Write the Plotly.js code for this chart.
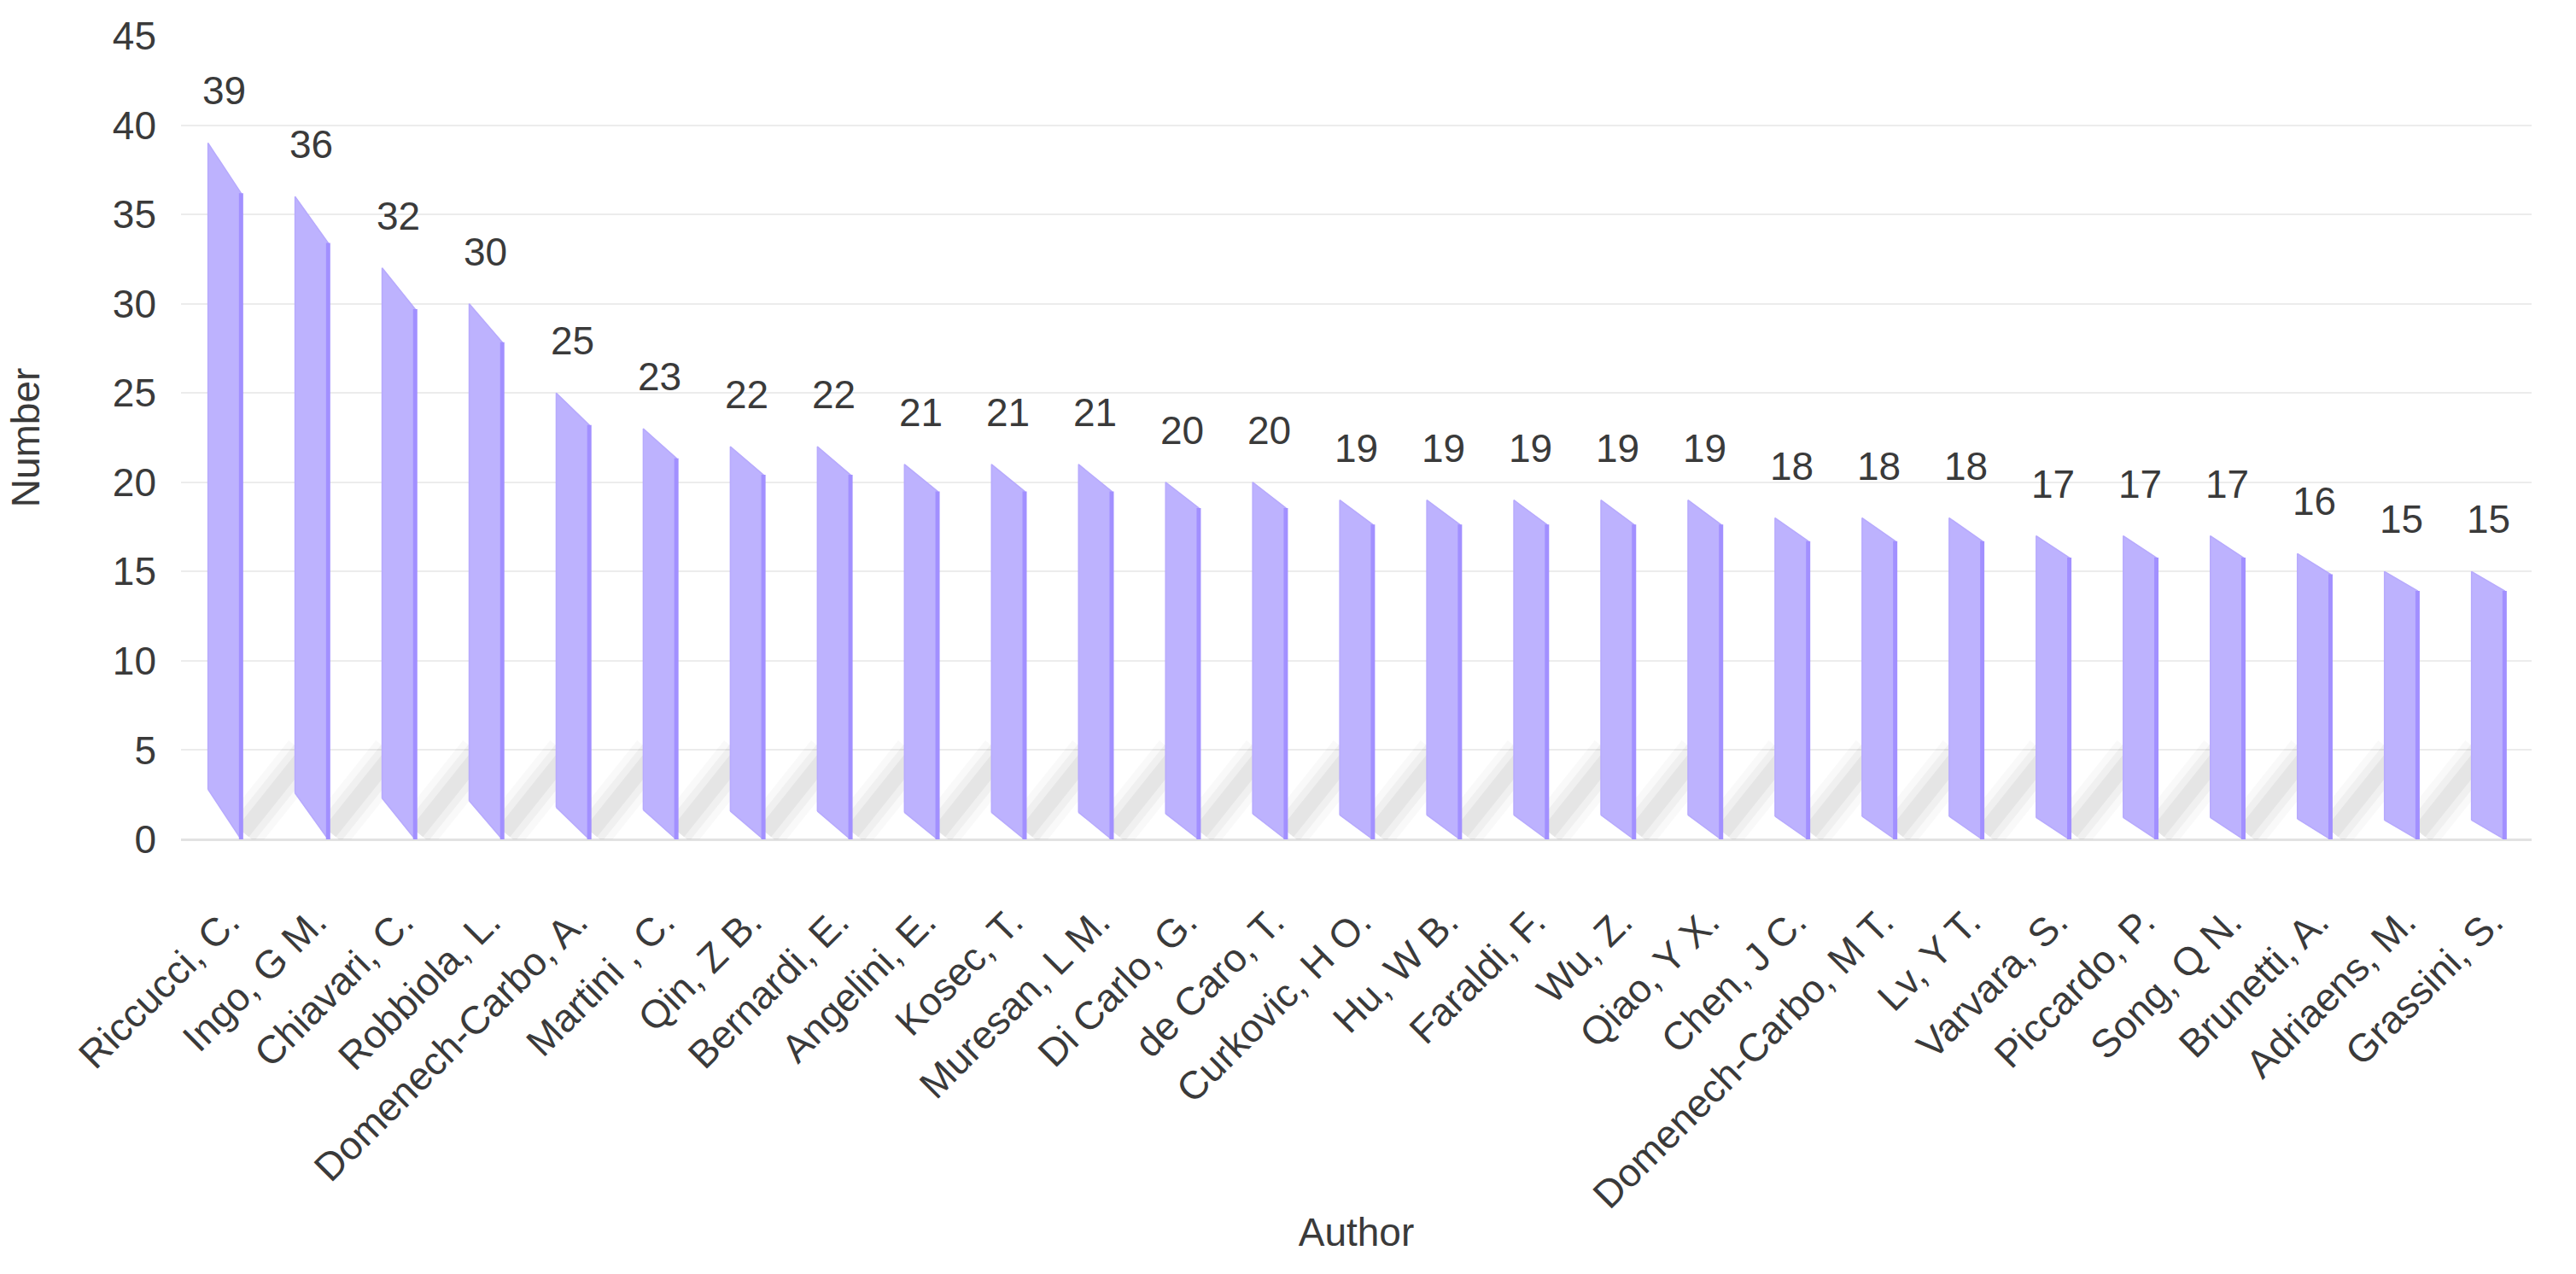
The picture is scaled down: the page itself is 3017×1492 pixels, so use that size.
<!DOCTYPE html>
<html>
<head>
<meta charset="utf-8">
<script src="https://cdn.plot.ly/plotly-3.0.1.min.js"></script>
<style>html,body{margin:0;padding:0;background:#fff;}#chart{width:3017px;height:1492px;}</style>
</head>
<body>
<div id="chart"></div>
<script>
// ---- data ----
const authors = ["Riccucci, C.", "Ingo, G M.", "Chiavari, C.", "Robbiola, L.", "Domenech-Carbo, A.",
  "Martini , C.", "Qin, Z B.", "Bernardi, E.", "Angelini, E.", "Kosec, T.", "Muresan, L M.",
  "Di Carlo, G.", "de Caro, T.", "Curkovic, H O.", "Hu, W B.", "Faraldi, F.", "Wu, Z.",
  "Qiao, Y X.", "Chen, J C.", "Domenech-Carbo, M T.", "Lv, Y T.", "Varvara, S.", "Piccardo, P.",
  "Song, Q N.", "Brunetti, A.", "Adriaens, M.", "Grassini, S."];
const counts = [39, 36, 32, 30, 25, 23, 22, 22, 21, 21, 21, 20, 20, 19, 19, 19, 19, 19, 18, 18, 18, 17, 17, 17, 16, 15, 15];
const yTicks = [0, 5, 10, 15, 20, 25, 30, 35, 40, 45];

// ---- style constants ----
const BAR_W = 0.38;      // bar width in category units
const SLANT = 0.072;     // slant of top/bottom edge as fraction of value
const FONT = 'Liberation Sans, Arial, sans-serif';
const TXT = '#3a3a3a';
const M = {l: 212, r: 52, t: 42, b: 509};

const idx = authors.map((_, i) => i);

// bar polygons (parallelograms) built from data
const px = [], py = [], ex = [], ey = [];
idx.forEach(i => {
  const v = counts[i], s = SLANT * v, l = i - BAR_W / 2, r = i + BAR_W / 2;
  px.push(l, l, r, r, l, null);
  py.push(s, v, v - s, 0, s, null);
  ex.push(r, r, null);
  ey.push(v - s, 0, null);
});

// soft floor shadows between bars
const sx = [], sy = [];
idx.forEach(i => {
  if (i === 0) return;
  sx.push(i - 1 + BAR_W / 2 + 0.02, i - BAR_W / 2 + 0.12, null);
  sy.push(0.4, 4.8, null);
});

const traces = [];
[[50, 0.025], [34, 0.035], [18, 0.045]].forEach(([w, a]) => {
  traces.push({x: sx, y: sy, mode: 'lines', type: 'scatter', hoverinfo: 'skip',
    line: {color: 'rgba(0,0,0,' + a + ')', width: w}, showlegend: false});
});
traces.push({x: px, y: py, mode: 'lines', type: 'scatter', fill: 'toself',
  fillcolor: '#bdb2fe', line: {color: '#b7aafd', width: 1.5}, hoverinfo: 'skip', showlegend: false});
traces.push({x: ex, y: ey, mode: 'lines', type: 'scatter',
  line: {color: '#a290ff', width: 5}, hoverinfo: 'skip', showlegend: false});

const annotations = idx.map(i => ({
  x: i, y: counts[i], xref: 'x', yref: 'y', text: String(counts[i]), showarrow: false,
  yanchor: 'middle', xanchor: 'center', yshift: 61,
  font: {family: FONT, size: 46, color: TXT}
}));

const layout = {
  width: 3017, height: 1492,
  margin: M,
  paper_bgcolor: '#fff', plot_bgcolor: '#fff',
  showlegend: false,
  font: {family: FONT, size: 46, color: TXT},
  xaxis: {
    range: [-0.5, 26.5], tickmode: 'array', tickvals: idx, ticktext: authors,
    tickangle: -45, showgrid: false, zeroline: false, showline: false,
    ticks: 'outside', ticklen: 12, tickcolor: 'rgba(0,0,0,0)',
    ticklabelstandoff: 38, ticklabelshift: 4,
    tickfont: {family: FONT, size: 46, color: TXT},
    title: {text: 'Author', font: {family: FONT, size: 46, color: TXT}, standoff: 2},
    automargin: false
  },
  yaxis: {
    range: [0, 45], tickmode: 'array', tickvals: yTicks, ticktext: yTicks.map(String),
    showgrid: true, gridcolor: '#ececec', gridwidth: 2, zeroline: true, zerolinecolor: '#e2e2e2', zerolinewidth: 3,
    showline: false, ticks: '', ticklabelstandoff: 28,
    tickfont: {family: FONT, size: 46, color: TXT},
    title: {text: 'Number', font: {family: FONT, size: 46, color: TXT}, standoff: 70},
    automargin: false
  },
  annotations: annotations
};

Plotly.newPlot('chart', traces, layout, {staticPlot: true, displayModeBar: false});
</script>
</body>
</html>
